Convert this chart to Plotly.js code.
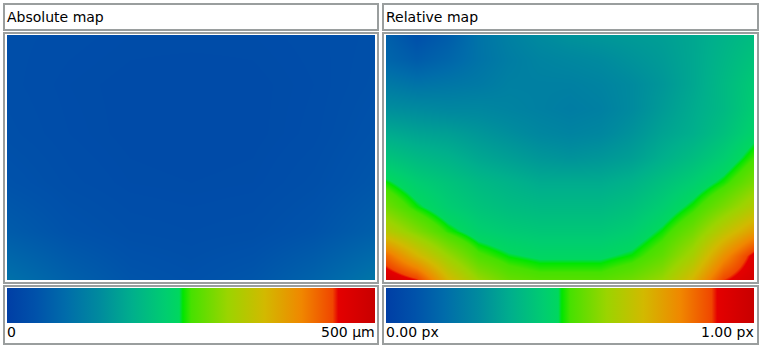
<!DOCTYPE html>
<html>
<head>
<meta charset="utf-8">
<script src="https://cdn.plot.ly/plotly-3.0.1.min.js"></script>
<style>html,body{margin:0;padding:0;background:#fff;}#chart{width:763px;height:350px;}</style>
</head>
<body>
<div id="chart"></div>
<script>
// Panel titles and colour-bar labels
const panelTitles = ["Absolute map", "Relative map"];
const absLabels = ["0", "500 µm"];
const relLabels = ["0.00 px", "1.00 px"];
const absRange = [0, 500];   // µm
const relRange = [0, 1];     // px

// Absolute map: estimated values (µm), rows top -> bottom
const absMap = [
  [32, 30, 28, 28, 28, 30, 34],
  [32, 28, 26, 25, 26, 29, 36],
  [34, 29, 26, 25, 26, 30, 40],
  [40, 32, 28, 27, 28, 34, 46],
  [55, 40, 33, 31, 33, 42, 60],
  [88, 62, 44, 38, 46, 66, 95]
];

// Relative map: estimated values (px), rows top -> bottom
const relMap = [
  [0.12, 0.07, 0.11, 0.18, 0.22, 0.25, 0.27, 0.28, 0.29, 0.30, 0.32, 0.35, 0.38],
  [0.14, 0.11, 0.14, 0.18, 0.21, 0.23, 0.24, 0.25, 0.27, 0.29, 0.32, 0.36, 0.40],
  [0.20, 0.18, 0.19, 0.20, 0.22, 0.22, 0.22, 0.23, 0.25, 0.28, 0.32, 0.37, 0.42],
  [0.26, 0.25, 0.24, 0.24, 0.23, 0.22, 0.21, 0.22, 0.25, 0.29, 0.33, 0.37, 0.43],
  [0.33, 0.31, 0.30, 0.28, 0.26, 0.24, 0.23, 0.24, 0.27, 0.31, 0.34, 0.39, 0.45],
  [0.40, 0.37, 0.35, 0.32, 0.30, 0.28, 0.27, 0.28, 0.30, 0.34, 0.38, 0.43, 0.50],
  [0.48, 0.43, 0.40, 0.37, 0.35, 0.33, 0.33, 0.33, 0.35, 0.39, 0.43, 0.485, 0.56],
  [0.55, 0.48, 0.43, 0.40, 0.38, 0.37, 0.37, 0.37, 0.39, 0.43, 0.485, 0.56, 0.64],
  [0.65, 0.57, 0.49, 0.44, 0.42, 0.41, 0.41, 0.41, 0.43, 0.48, 0.55, 0.66, 0.76],
  [0.84, 0.71, 0.60, 0.51, 0.475, 0.46, 0.46, 0.46, 0.48, 0.53, 0.62, 0.78, 0.92],
  [0.96, 0.90, 0.71, 0.60, 0.54, 0.52, 0.52, 0.52, 0.55, 0.60, 0.71, 0.89, 0.96]
];

const colorscale = [
  [0.00, 'rgb(0,62,165)'],
  [0.08, 'rgb(0,82,170)'],
  [0.16, 'rgb(0,108,170)'],
  [0.25, 'rgb(0,138,158)'],
  [0.34, 'rgb(0,175,140)'],
  [0.43, 'rgb(0,205,112)'],
  [0.468, 'rgb(0,215,95)'],
  [0.478, 'rgb(0,230,0)'],
  [0.50, 'rgb(70,225,0)'],
  [0.60, 'rgb(155,212,0)'],
  [0.70, 'rgb(210,185,0)'],
  [0.80, 'rgb(240,135,0)'],
  [0.885, 'rgb(240,70,0)'],
  [0.90, 'rgb(228,0,0)'],
  [1.00, 'rgb(200,0,0)']
];

const W = 763, H = 350;
const px = v => v / W;
const py = v => 1 - v / H;

function cb(xLeft) {
  return {
    orientation: 'h', x: px(xLeft), xanchor: 'left',
    y: py(288), yanchor: 'top',
    len: 368, lenmode: 'pixels', thickness: 35, thicknessmode: 'pixels',
    xpad: 0, ypad: 0, outlinewidth: 0, borderwidth: 0,
    showticklabels: false, ticks: ''
  };
}

const traces = [
  {type: 'heatmap', z: absMap, xaxis: 'x', yaxis: 'y', colorscale: colorscale,
   zmin: absRange[0], zmax: absRange[1], zsmooth: 'best', colorbar: cb(7), hoverinfo: 'z'},
  {type: 'heatmap', z: relMap, xaxis: 'x2', yaxis: 'y2', colorscale: colorscale,
   zmin: relRange[0], zmax: relRange[1], zsmooth: 'best', colorbar: cb(386), hoverinfo: 'z'}
];

const hidden = {showgrid: false, zeroline: false, showticklabels: false, ticks: '', showline: false, fixedrange: true};
const border = '#9a9e9e';
function rect(x0, y0, x1, y1) {
  return {type: 'rect', xref: 'paper', yref: 'paper', x0: px(x0), x1: px(x1), y0: py(y0), y1: py(y1),
          line: {color: border, width: 2}, fillcolor: 'rgba(0,0,0,0)', layer: 'above'};
}
const shapes = [];
[[4, 378], [383, 758]].forEach(([a, b]) => {
  shapes.push(rect(a, 4, b, 30));
  shapes.push(rect(a, 33, b, 283));
  shapes.push(rect(a, 286, b, 344));
});

const font = {family: 'DejaVu Sans, Verdana, sans-serif', size: 14, color: '#000'};
function ann(text, x, y, anchor) {
  return {text: text, xref: 'paper', yref: 'paper', x: px(x), y: py(y), xanchor: anchor, yanchor: 'middle',
          showarrow: false, font: font, borderpad: 0, borderwidth: 0};
}
const annotations = [
  ann(panelTitles[0], 7, 17, 'left'),
  ann(panelTitles[1], 386, 17, 'left'),
  ann(absLabels[0], 7, 332, 'left'),
  ann(absLabels[1], 375, 332, 'right'),
  ann(relLabels[0], 386, 332, 'left'),
  ann(relLabels[1], 754, 332, 'right')
];

const layout = {
  width: W, height: H, margin: {l: 0, r: 0, t: 0, b: 0},
  paper_bgcolor: '#fff', plot_bgcolor: '#fff', showlegend: false,
  xaxis: Object.assign({domain: [px(7), px(375)], range: [0, absMap[0].length - 1], anchor: 'y'}, hidden),
  yaxis: Object.assign({domain: [py(280), py(35)], range: [absMap.length - 1, 0], anchor: 'x'}, hidden),
  xaxis2: Object.assign({domain: [px(386), px(754)], range: [0, relMap[0].length - 1], anchor: 'y2'}, hidden),
  yaxis2: Object.assign({domain: [py(280), py(35)], range: [relMap.length - 1, 0], anchor: 'x2'}, hidden),
  shapes: shapes,
  annotations: annotations,
  font: font
};

Plotly.newPlot('chart', traces, layout, {displayModeBar: false, staticPlot: true});
</script>
</body>
</html>
